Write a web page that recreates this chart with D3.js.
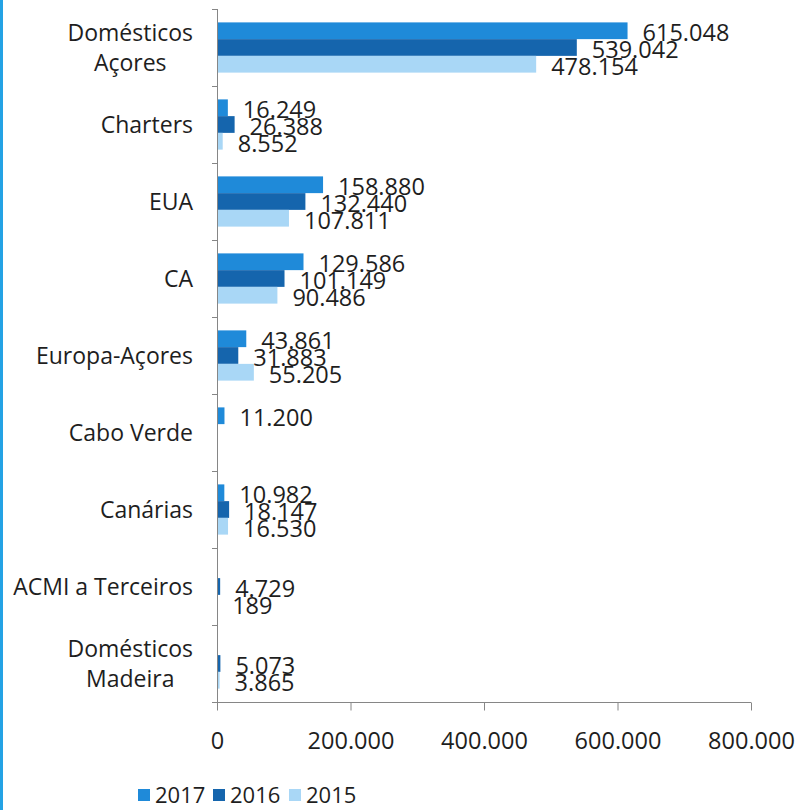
<!DOCTYPE html>
<html>
<head>
<meta charset="utf-8">
<script src="https://cdn.jsdelivr.net/npm/d3@7/dist/d3.min.js"></script>
<style>
  html, body { margin: 0; padding: 0; background: #ffffff; }
  svg { display: block; }
  text { font-family: "Open Sans", "Noto Sans", sans-serif; fill: #1e1e1e; }
</style>
</head>
<body>
<svg id="chart" width="795" height="810"></svg>
<script>
const categories = [
  ["Domésticos", "Açores"],
  ["Charters"],
  ["EUA"],
  ["CA"],
  ["Europa-Açores"],
  ["Cabo Verde"],
  ["Canárias"],
  ["ACMI a Terceiros"],
  ["Domésticos", "Madeira"]
];
const seriesNames = ["2017", "2016", "2015"];
const values2017 = [615048, 16249, 158880, 129586, 43861, 11200, 10982, null, null];
const values2016 = [539042, 26388, 132440, 101149, 31883, null, 18147, 4729, 5073];
const values2015 = [478154, 8552, 107811, 90486, 55205, null, 16530, 189, 3865];
const xTicks = [0, 200000, 400000, 600000, 800000];
const colors = ["#1f8ad9", "#1565ad", "#a9d7f6"];

const seriesValues = [values2017, values2016, values2015];
const catKeys = categories.map(c => c.join(" "));

const svg = d3.select("#chart");
const fontSize = 23.5;

// left border line
svg.append("rect").attr("x", 0).attr("y", 0).attr("width", 3).attr("height", 810).attr("fill", "#23a2e4");

const x = d3.scaleLinear().domain([0, 800000]).range([217, 751]);
const y0 = d3.scaleBand().domain(catKeys).range([9, 702]).paddingInner(0).paddingOuter(0);
const y1 = d3.scaleBand().domain(seriesNames).range([0, y0.bandwidth()]).paddingInner(0).paddingOuter(0.8);

const loc = d3.formatLocale({decimal: ",", thousands: ".", grouping: [3], currency: ["", "€"]});
const fmt = loc.format(",d");

// bars
const rows = [];
catKeys.forEach((k, i) => {
  seriesNames.forEach((s, j) => {
    const v = seriesValues[j][i];
    if (v !== null && v !== undefined) rows.push({cat: k, series: s, j, v});
  });
});

svg.append("g").selectAll("rect").data(rows).join("rect")
  .attr("x", x(0))
  .attr("y", d => y0(d.cat) + y1(d.series))
  .attr("width", d => x(d.v) - x(0))
  .attr("height", y1.bandwidth())
  .attr("fill", d => colors[d.j]);

// value labels
svg.append("g").selectAll("text").data(rows).join("text")
  .attr("x", d => x(d.v) + 15)
  .attr("y", d => y0(d.cat) + y1(d.series) + y1.bandwidth() / 2 + 2 + fontSize * 0.357)
  .attr("font-size", fontSize)
  .text(d => fmt(d.v));

// y axis line and ticks
const axisColor = "#868686";
svg.append("line").attr("x1", x(0) + 0.5).attr("x2", x(0) + 0.5)
  .attr("y1", y0.range()[0]).attr("y2", y0.range()[1] + 8)
  .attr("stroke", axisColor).attr("stroke-width", 1);
const boundaries = catKeys.map(k => y0(k)).concat([y0.range()[1]]);
svg.append("g").selectAll("line").data(boundaries).join("line")
  .attr("x1", x(0) - 5).attr("x2", x(0))
  .attr("y1", d => Math.round(d) + 0.5).attr("y2", d => Math.round(d) + 0.5)
  .attr("stroke", axisColor);

// x axis
const xAxis = d3.axisBottom(x).tickValues(xTicks).tickSize(8).tickFormat(d => d === 0 ? "0" : fmt(d));
const gx = svg.append("g").attr("transform", `translate(0,${Math.round(y0.range()[1]) + 0.5})`).call(xAxis);
gx.select(".domain").attr("stroke", axisColor).attr("d", `M${x(0)},0H${x(800000)}`);
gx.selectAll(".tick line").attr("stroke", axisColor);
gx.selectAll(".tick text").attr("font-size", fontSize).attr("fill", "#1e1e1e")
  .attr("font-family", "'Open Sans', sans-serif").attr("dy", null).attr("y", 46);

// category labels
const labelRight = 193;
const lineH = 30;
categories.forEach((lines, i) => {
  const cy = y0(catKeys[i]) + y0.bandwidth() / 2;
  const g = svg.append("g");
  const texts = lines.map((ln, li) => g.append("text")
    .attr("font-size", 23)
    .attr("y", cy + (li - (lines.length - 1) / 2) * lineH + 23 * 0.357)
    .text(ln));
  const widths = texts.map(t => t.node().getComputedTextLength());
  const maxW = d3.max(widths);
  texts.forEach(t => t.attr("x", labelRight - maxW / 2).attr("text-anchor", "middle"));
});

// legend
const legX = [138, 213, 289];
seriesNames.forEach((s, j) => {
  svg.append("rect").attr("x", legX[j]).attr("y", 789).attr("width", 12).attr("height", 12).attr("fill", colors[j]);
  svg.append("text").attr("x", legX[j] + 17).attr("y", 803).attr("font-size", 22).text(s);
});
</script>
</body>
</html>
